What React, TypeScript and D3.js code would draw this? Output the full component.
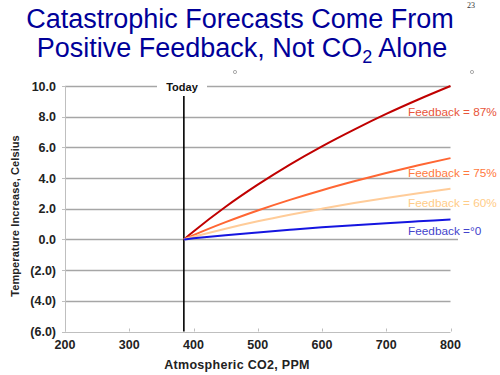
import React from "react";
import * as d3 from "d3";

const co2 = [385, 400, 450, 500, 550, 600, 650, 700, 750, 800];
const fb87 = [0, 0.52, 2.13, 3.57, 4.88, 6.07, 7.16, 8.18, 9.12, 10.0];
const fb75 = [0, 0.28, 1.13, 1.89, 2.58, 3.21, 3.79, 4.33, 4.83, 5.3];
const fb60 = [0, 0.17, 0.7, 1.18, 1.61, 2.0, 2.37, 2.7, 3.01, 3.3];
const fb0 = [0, 0.07, 0.28, 0.46, 0.63, 0.79, 0.93, 1.06, 1.18, 1.3];
const yTicks = [10, 8, 6, 4, 2, 0, -2, -4, -6];
const xTicks = [200, 300, 400, 500, 600, 700, 800];
const today = 385;

const series = [
  { name: "Feedback = 87%", values: fb87, color: "#C00000", label: "#E8553A", ly: 116 },
  { name: "Feedback = 75%", values: fb75, color: "#FF6633", label: "#FF7A40", ly: 177 },
  { name: "Feedback = 60%", values: fb60, color: "#FFCC99", label: "#FFCC88", ly: 207 },
  { name: "Feedback =°0", values: fb0, color: "#1515E0", label: "#4444CC", ly: 235 },
];

const fmt = (v: number) => (v < 0 ? `(${Math.abs(v).toFixed(1)})` : v.toFixed(1));

export default function App() {
  const x = d3.scaleLinear().domain([200, 800]).range([65, 450.5]);
  const y = d3.scaleLinear().domain([-6, 10]).range([331.5, 86]);
  const line = d3
    .line<number>()
    .x((_, i) => x(co2[i]))
    .y((d) => y(d))
    .curve(d3.curveMonotoneX);
  const font = "'Liberation Sans', Arial, sans-serif";
  return (
    <svg
      width={500}
      height={375}
      style={{ position: "absolute", left: 0, top: 0, background: "#fff" }}
      fontFamily={font}
    >
      <text x={240} y={28} textAnchor="middle" fontSize={27} fill="#000099">
        Catastrophic Forecasts Come From
      </text>
      <text x={242} y={57} textAnchor="middle" fontSize={27} fill="#000099">
        Positive Feedback, Not CO
        <tspan fontSize={18} dy={6}>2</tspan>
        <tspan dy={-6}> Alone</tspan>
      </text>
      <text x={471} y={8} textAnchor="middle" fontSize={8} fontFamily="'Liberation Serif', serif" fill="#333">
        23
      </text>
      <circle cx={235} cy={72} r={1.6} fill="none" stroke="#888" strokeWidth={0.7} />
      <circle cx={472} cy={72} r={1.6} fill="none" stroke="#888" strokeWidth={0.7} />

      {yTicks.map((t) => {
        const yy = Math.round(y(t)) + 0.5;
        if (t === -6) return null;
        if (t === 10) {
          return (
            <g key={t}>
              <line x1={x(200)} x2={157} y1={yy} y2={yy} stroke="#A6A6A6" strokeWidth={1.3} />
              <line x1={207} x2={x(800)} y1={yy} y2={yy} stroke="#A6A6A6" strokeWidth={1.3} />
            </g>
          );
        }
        return (
          <line
            key={t}
            x1={x(200)}
            x2={t === 0 ? 458 : x(800)}
            y1={yy}
            y2={yy}
            stroke="#A6A6A6"
            strokeWidth={1.3}
          />
        );
      })}
      {/* axes */}
      <line x1={65.5} x2={65.5} y1={y(10)} y2={y(-6)} stroke="#BFBFBF" strokeWidth={1} />
      <line x1={65} x2={x(800)} y1={Math.round(y(-6)) + 0.5} y2={Math.round(y(-6)) + 0.5} stroke="#BFBFBF" strokeWidth={1} />
      {yTicks.map((t) => (
        <g key={t}>
          <line x1={62} x2={65} y1={Math.round(y(t)) + 0.5} y2={Math.round(y(t)) + 0.5} stroke="#BFBFBF" />
          <text x={56} y={y(t) + 4.5} textAnchor="end" fontSize={12.5} fontWeight="bold" fill="#222">
            {fmt(t)}
          </text>
        </g>
      ))}
      {xTicks.map((t) => (
        <g key={t}>
          <line x1={Math.round(x(t)) + 0.5} x2={Math.round(x(t)) + 0.5} y1={y(-6)} y2={y(-6) - 3} stroke="#BFBFBF" />
          <text x={x(t)} y={349} textAnchor="middle" fontSize={12.5} fontWeight="bold" fill="#222">
            {t}
          </text>
        </g>
      ))}

      {/* Today line */}
      <line x1={x(today)} x2={x(today)} y1={96} y2={y(-6)} stroke="#000" strokeWidth={1.6} />
      <text x={182} y={91} textAnchor="middle" fontSize={11} fontWeight="bold" fill="#111">
        Today
      </text>

      {series.map((s) => (
        <g key={s.name}>
          <path d={line(s.values) || ""} fill="none" stroke={s.color} strokeWidth={2} />
          <text x={408} y={s.ly} fontSize={11.8} fill={s.label}>
            {s.name}
          </text>
        </g>
      ))}

      <text
        transform={`translate(19,216) rotate(-90)`}
        textAnchor="middle"
        fontSize={11}
        fontWeight="bold"
        fill="#222"
        letterSpacing={0.1}
      >
        Temperature Increase, Celsius
      </text>
      <text x={237} y={369} textAnchor="middle" fontSize={12.5} fontWeight="bold" fill="#222" letterSpacing={0.3}>
        Atmospheric CO2, PPM
      </text>
    </svg>
  );
}
